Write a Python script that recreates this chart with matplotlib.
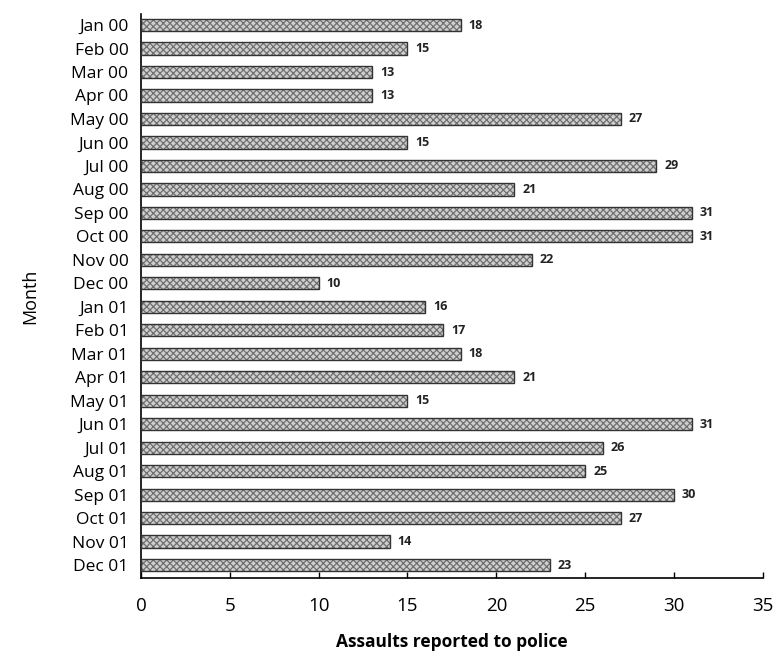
import matplotlib
matplotlib.use("Agg")
import matplotlib.pyplot as plt

months = ["Jan 00", "Feb 00", "Mar 00", "Apr 00", "May 00", "Jun 00",
          "Jul 00", "Aug 00", "Sep 00", "Oct 00", "Nov 00", "Dec 00",
          "Jan 01", "Feb 01", "Mar 01", "Apr 01", "May 01", "Jun 01",
          "Jul 01", "Aug 01", "Sep 01", "Oct 01", "Nov 01", "Dec 01"]
assaults = [18, 15, 13, 13, 27, 15, 29, 21, 31, 31, 22, 10,
            16, 17, 18, 21, 15, 31, 26, 25, 30, 27, 14, 23]
x_ticks = [0, 5, 10, 15, 20, 25, 30, 35]

plt.rcParams["font.family"] = ["Open Sans", "DejaVu Sans"]
plt.rcParams["hatch.linewidth"] = 0.9

fig = plt.figure(figsize=(7.76, 6.55), dpi=100)
ax = fig.add_axes([0.1817, 0.1176, 0.8013, 0.861])

ypos = list(range(len(months)))
# textured grey fill
ax.barh(ypos, assaults, height=0.52, color="#cfcfcf", edgecolor="#707070",
        linewidth=0, hatch="xxxxx", zorder=2)
# dark outline
ax.barh(ypos, assaults, height=0.52, color="none", edgecolor="#333333",
        linewidth=1.0, zorder=3)

for y, v in zip(ypos, assaults):
    ax.text(v + 0.45, y, str(v), va="center", ha="left", fontsize=9,
            fontweight="bold", color="#222222")

ax.set_xlim(0, 35)
ax.set_ylim(23.55, -0.47)
ax.set_yticks(ypos)
ax.set_yticklabels(months, fontsize=12.5)
ax.set_xticks(x_ticks)
ax.set_xticklabels([str(t) for t in x_ticks], fontsize=13.5)

ax.tick_params(axis="y", length=0, pad=9)
ax.tick_params(axis="x", direction="in", length=4, width=1, pad=14)

for s in ["top", "right"]:
    ax.spines[s].set_visible(False)
ax.spines["left"].set_linewidth(1.2)
ax.spines["bottom"].set_linewidth(1.2)

ax.set_xlabel("Assaults reported to police", fontsize=12.5, fontweight="bold",
              labelpad=13)
ax.set_ylabel("Month", fontsize=13, labelpad=22)

fig.savefig("out.png", dpi=100)
